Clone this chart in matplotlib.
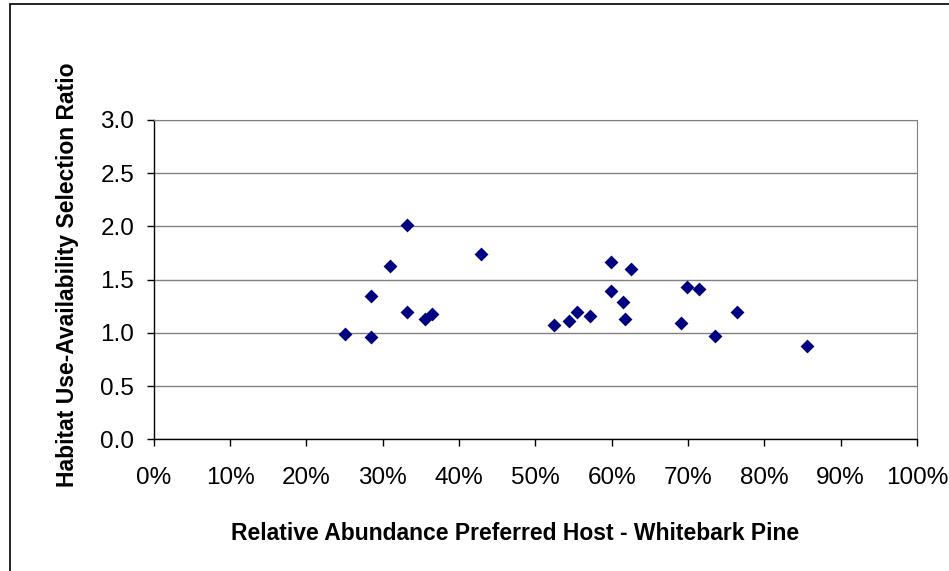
import matplotlib.pyplot as plt
from matplotlib.patches import Rectangle
from matplotlib.ticker import FuncFormatter, MultipleLocator

plt.rcParams['font.family'] = ['Liberation Sans', 'DejaVu Sans']

# relative abundance of whitebark pine (%) and selection ratio per site
abundance = [25.1, 28.5, 28.5, 30.9, 33.2, 33.2, 35.5, 36.4, 42.9,
             52.4, 54.4, 55.5, 57.1, 59.9, 59.9, 61.5, 61.8, 62.5,
             69.1, 69.9, 71.5, 73.6, 76.4, 85.6]
selection = [0.99, 1.35, 0.96, 1.63, 2.01, 1.20, 1.13, 1.18, 1.74,
             1.07, 1.11, 1.20, 1.16, 1.67, 1.39, 1.29, 1.13, 1.60,
             1.09, 1.43, 1.41, 0.97, 1.20, 0.88]

fig = plt.figure(figsize=(9.49, 5.71), dpi=100)
ax = fig.add_axes([153.7 / 949, 1 - 439.3 / 571, (917 - 153.7) / 949, (439.3 - 120) / 571])

ax.scatter([a / 100 for a in abundance], selection, marker='D', s=50,
           color='#000080', linewidths=0, zorder=3)

ax.set_xlim(0, 1)
ax.set_ylim(0, 3)
ax.xaxis.set_major_locator(MultipleLocator(0.1))
ax.yaxis.set_major_locator(MultipleLocator(0.5))
ax.xaxis.set_major_formatter(FuncFormatter(lambda v, p: f'{v * 100:.0f}%'))
ax.yaxis.set_major_formatter(FuncFormatter(lambda v, p: f'{v:.1f}'))
ax.tick_params(direction='out', length=5, width=1, labelsize=17.5, colors='black')
ax.tick_params(axis='x', pad=15)
ax.tick_params(axis='y', pad=9)

ax.grid(axis='y', color='#808080', linewidth=1)
ax.set_axisbelow(True)
for side in ('top', 'right'):
    ax.spines[side].set_color('#808080')
for side in ('left', 'bottom'):
    ax.spines[side].set_color('black')
    ax.spines[side].set_linewidth(1)

fig.text(515 / 949, 1 - 534 / 571, 'Relative Abundance Preferred Host - Whitebark Pine',
         ha='center', va='center', fontsize=16.5, fontweight='bold')
fig.text(68 / 949, 1 - 275 / 571, 'Habitat Use-Availability Selection Ratio',
         ha='center', va='center', rotation=90, fontsize=16.5, fontweight='bold')

# chart area frame
fig.patches.append(Rectangle((9.5 / 949, -0.05), 1.1, 1 - 3.5 / 571 + 0.05,
                             transform=fig.transFigure, fill=False,
                             edgecolor='black', linewidth=1.2))

fig.savefig('out.png', dpi=100)
